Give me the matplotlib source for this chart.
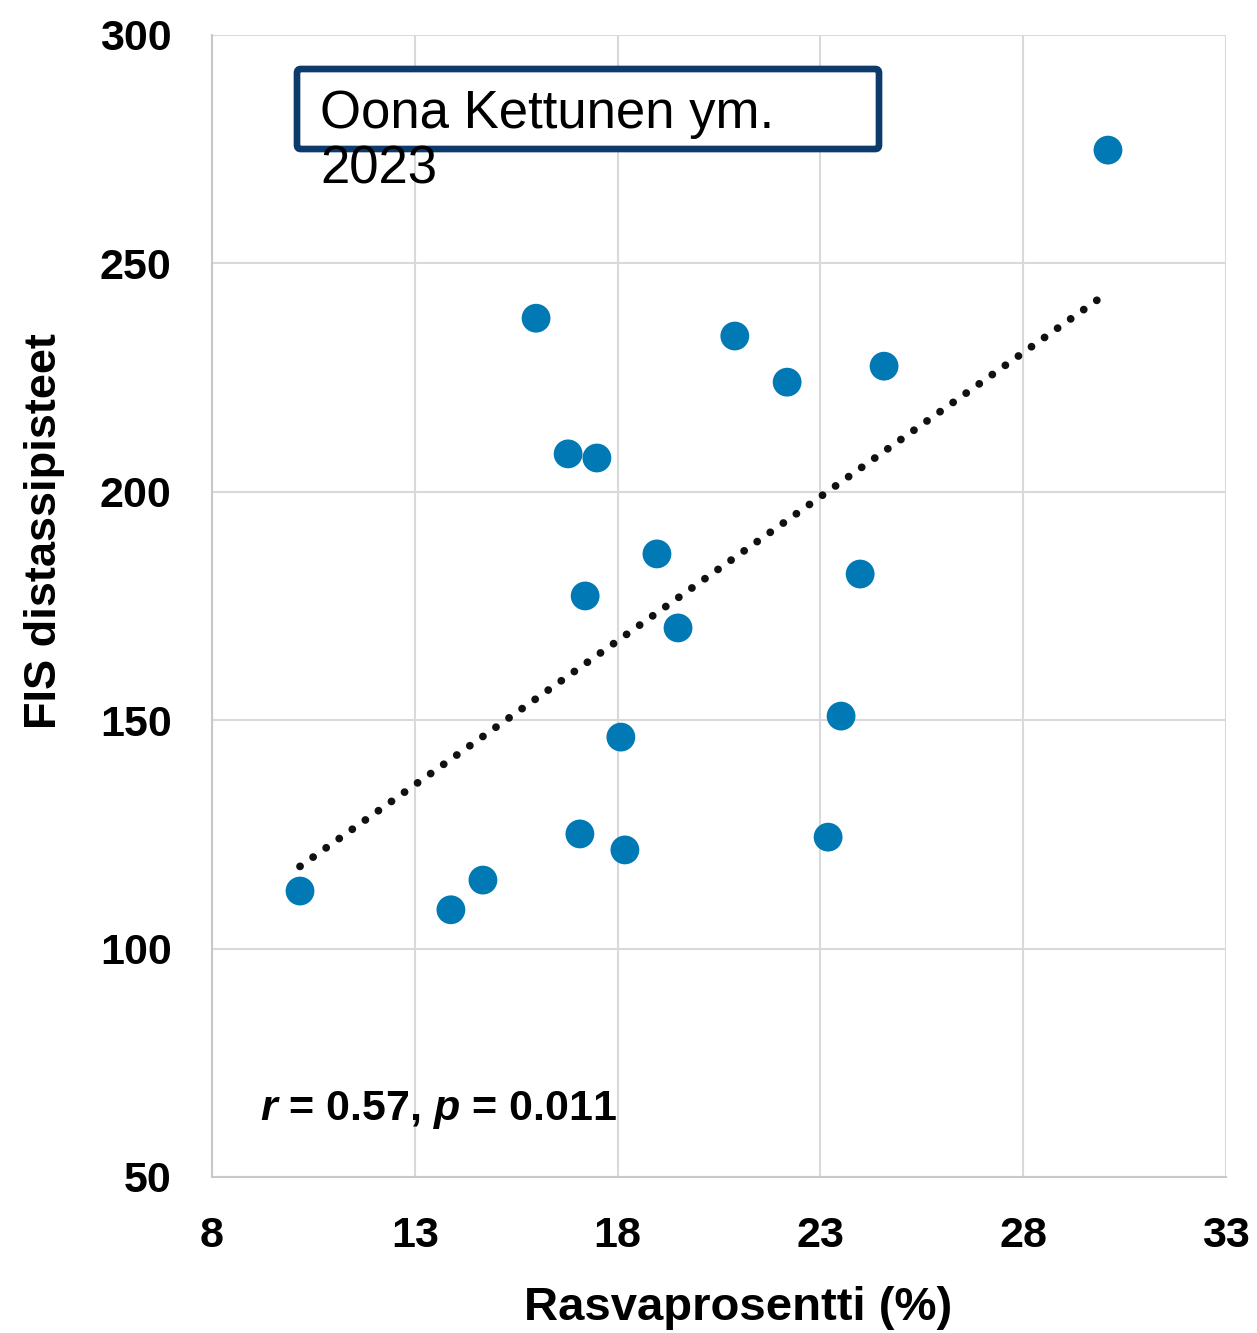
import matplotlib
matplotlib.use("Agg")
import matplotlib.pyplot as plt
import numpy as np
from matplotlib.patches import FancyBboxPatch

plt.rcParams['font.family'] = ['Liberation Sans', 'DejaVu Sans']
plt.rcParams['mathtext.fontset'] = 'custom'
plt.rcParams['mathtext.bfit'] = 'Liberation Sans:italic:bold'
plt.rcParams['mathtext.rm'] = 'Liberation Sans:bold'

fat_pct = [10.17, 13.89, 14.68, 15.99, 16.78, 17.49, 17.2, 17.07, 18.08, 18.18,
           18.97, 19.49, 20.89, 22.18, 24.57, 23.98, 23.51, 23.19, 30.09]
fis_points = [112.6, 108.5, 115.0, 238.0, 208.3, 207.4, 177.2, 125.1, 146.3, 121.6,
              186.4, 170.2, 234.1, 224.0, 227.5, 182.0, 150.9, 124.4, 274.8]
x_ticks = [8, 13, 18, 23, 28, 33]
y_ticks = [50, 100, 150, 200, 250, 300]

fig = plt.figure(figsize=(12.57, 13.33), dpi=100)
ax = fig.add_axes([212/1257, 1-1177/1333, (1226-212)/1257, (1177-35)/1333])

ax.set_xlim(8, 33)
ax.set_ylim(50, 300)
ax.set_xticks(x_ticks)
ax.set_yticks(y_ticks)
ax.grid(True, color='#d9d9d9', linewidth=1.5)
ax.set_axisbelow(True)
for s in ax.spines.values():
    s.set_visible(False)
for side in ('left', 'bottom'):
    ax.spines[side].set_visible(True)
    ax.spines[side].set_color('#c8c8c8')
    ax.spines[side].set_linewidth(1.5)
ax.tick_params(length=0, labelsize=31)
ax.tick_params(axis='y', pad=29)
ax.tick_params(axis='x', pad=28)
for lab in ax.get_xticklabels() + ax.get_yticklabels():
    lab.set_fontweight('bold')

x = np.array(fat_pct)
y = np.array(fis_points)
k, b = np.polyfit(x, y, 1)
xs = np.array([x.min(), x.max()])
ax.plot(xs, k*xs + b, color='#111111', linewidth=5.6,
        linestyle=(0, (0.01, 2.05)), dash_capstyle='round', zorder=2)

ax.scatter(x, y, s=430, color='#0079b5', edgecolors='none', zorder=3)

ax.set_xlabel('Rasvaprosentti (%)', fontsize=34, fontweight='bold')
ax.xaxis.label.set_va('baseline')
ax.xaxis.set_label_coords((738-212)/1014, -(1320-1177)/1142)
ax.set_ylabel('FIS distassipisteet', fontsize=32.5, fontweight='bold')
ax.yaxis.set_label_coords(-(212-45)/1014, (1177-531)/1142)
ax.yaxis.label.set_va('center')

fig.text(260/1257, 1-1120/1333, r'$\mathbfit{r}$ = 0.57, $\mathbfit{p}$ = 0.011',
         fontsize=31, fontweight='bold', ha='left', va='baseline')

box = FancyBboxPatch((297/1257, 1-149/1333), (879-297)/1257, (149-69)/1333,
                     boxstyle='round,pad=0,rounding_size=0.003',
                     transform=fig.transFigure, facecolor='white',
                     edgecolor='#0b3a6b', linewidth=4.8, zorder=5)
fig.patches.append(box)
fig.text(320/1257, 1-128/1333, 'Oona Kettunen ym.', fontsize=38,
         ha='left', va='baseline', zorder=6)
fig.text(320/1257, 1-183/1333, '2023', fontsize=38,
         ha='left', va='baseline', zorder=6)

fig.savefig('out.png', dpi=100)
